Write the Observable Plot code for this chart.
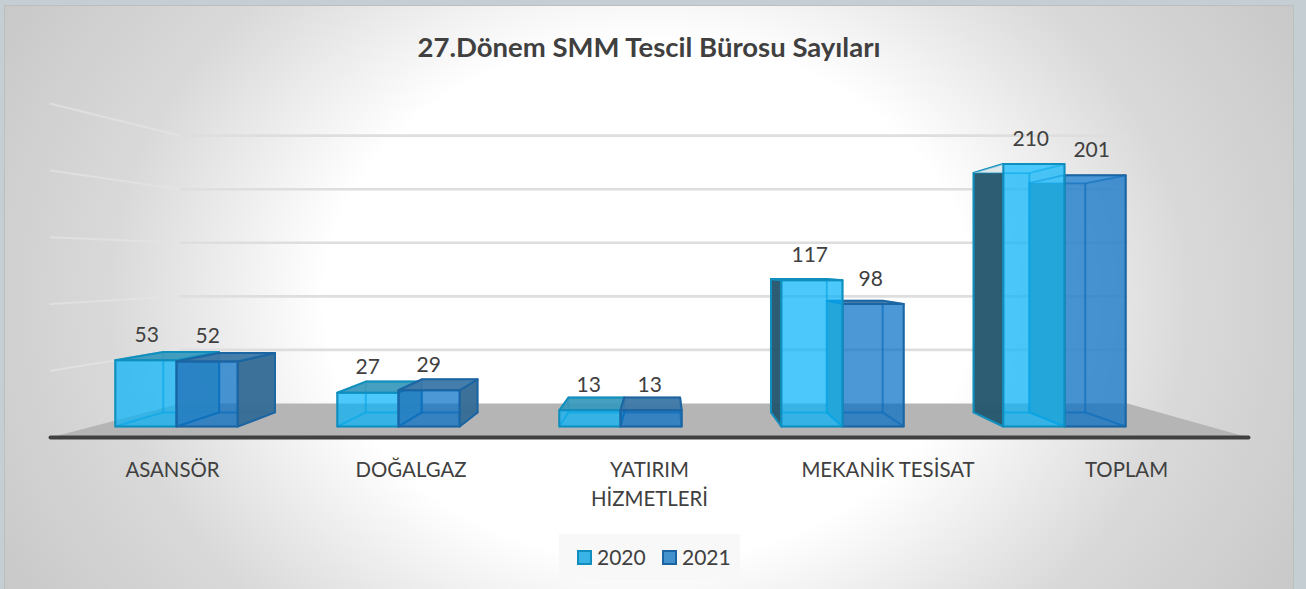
<!DOCTYPE html>
<html lang="tr">
<head>
<meta charset="utf-8">
<script src="https://cdn.jsdelivr.net/npm/d3@7"></script>
<script src="https://cdn.jsdelivr.net/npm/@observablehq/plot@0.6"></script>
<style>
html,body{margin:0;padding:0;background:#c5ced2;}
#root{position:relative;width:1306px;height:589px;overflow:hidden;font-family:Lato,sans-serif;}
#panel{position:absolute;left:4px;top:5px;width:1290px;height:590px;box-sizing:border-box;border:1px solid #bcbfc0;
  background:radial-gradient(ellipse 900px 720px at 50% 50%,#fff 0,#fff 36%,#d9d9d9 60%,#bfbfbf 95%);}
#chart{position:absolute;left:0;top:0;}
#title{position:absolute;left:0;width:1298px;top:32px;text-align:center;font-size:27.5px;font-weight:700;color:#404040;line-height:30px;}
#legend{position:absolute;left:559px;top:534px;width:181px;height:46px;background:#f8f8f8;font-size:21px;color:#404040;}
#legend span{position:absolute;top:9px;line-height:28px;}
#legend i{position:absolute;top:16px;width:15px;height:15px;box-sizing:border-box;border:2px solid;}
</style>
</head>
<body>
<div id="root">
  <div id="panel"></div>
  <div id="chart"></div>
  <div id="title"></div>
  <div id="legend"></div>
</div>
<script>
const chartTitle = "27.Dönem SMM Tescil Bürosu Sayıları";
const categories = ["ASANSÖR", "DOĞALGAZ", "YATIRIM\nHİZMETLERİ", "MEKANİK TESİSAT", "TOPLAM"];
const values2020 = [53, 27, 13, 117, 210];
const values2021 = [52, 29, 13, 98, 201];
const seriesNames = ["2020", "2021"];
const gridValues = [50, 100, 150, 200, 250];

// Layout of the 3D box, in scale units
const W = 1306, H = 589;
const slotPx = 222, slotStart = 176, pxPerValue = 1.25, basePx = 426;
const xDomain = [-slotStart / slotPx, (W - slotStart) / slotPx];
const yDomain = [(basePx - H) / pxPerValue, basePx / pxPerValue];
const barW = 61.2 / slotPx;
const vanishX = (663 - slotStart) / slotPx, vanishV = (basePx - 265) / pxPerValue;
const depthBar = 0.9125, depthWall = 0.857, depthFloorFront = 1.068;
const slot = px => (px - slotStart) / slotPx;

const pr = (x, v, s) => ({x: vanishX + (x - vanishX) * s, y: vanishV + (v - vanishV) * s});

const styles = {
  "2020": {front: "rgba(0,177,250,.70)", edge: "16,142,190", leftOut: "rgba(38,88,110,.97)", rightOut: "rgba(127,181,190,.92)", topOut: "rgba(53,151,187,.92)"},
  "2021": {front: "rgba(0,108,197,.70)", edge: "28,101,163", leftOut: "rgba(113,140,143,.97)", rightOut: "rgba(54,109,150,.97)", topOut: "rgba(59,119,166,.95)"}
};

function barFaces(i, series, value) {
  const st = styles[series];
  const is2020 = series === "2020";
  const x0 = i + (is2020 ? -barW : 0), x1 = x0 + barW;
  const F = (x, v) => pr(x, v, 1), B = (x, v) => pr(x, v, depthBar);
  const leftOutside = x0 > vanishX, rightOutside = x1 < vanishX, topOutside = value < vanishV;
  const faint = `rgba(${st.edge},.38)`, solid = `rgb(${st.edge})`;
  // The side that faces the neighbouring bar is seen through it, so its edge stays soft
  const faces = [
    {name: "back", fill: "rgba(255,255,255,.03)", stroke: faint, pts: [B(x0,0), B(x1,0), B(x1,value), B(x0,value)]},
    {name: "bottom", fill: "rgba(255,255,255,.02)", stroke: faint, pts: [F(x0,0), F(x1,0), B(x1,0), B(x0,0)]},
    {name: "left", fill: leftOutside ? st.leftOut : "rgba(255,255,255,.02)", stroke: leftOutside && is2020 ? solid : faint, pts: [F(x0,0), B(x0,0), B(x0,value), F(x0,value)]},
    {name: "right", fill: rightOutside ? st.rightOut : "rgba(255,255,255,.02)", stroke: rightOutside && !is2020 ? solid : faint, pts: [F(x1,0), B(x1,0), B(x1,value), F(x1,value)]},
    {name: "top", fill: topOutside ? st.topOut : "rgba(255,255,255,.85)", stroke: topOutside ? solid : faint, pts: [F(x0,value), F(x1,value), B(x1,value), B(x0,value)]},
    {name: "front", fill: st.front, stroke: solid, pts: [F(x0,0), F(x1,0), F(x1,value), F(x0,value)]}
  ];
  return faces.map(f => ({...f, id: `${i}-${series}-${f.name}`}));
}

// Paint order: bars left of the vanishing point put 2021 last, bars right of it put 2020 last
const polygons = [];
categories.forEach((c, i) => {
  const order = i < vanishX ? ["2020", "2021"] : ["2021", "2020"];
  for (const s of order) {
    const v = s === "2020" ? values2020[i] : values2021[i];
    polygons.push(...barFaces(i, s, v));
  }
});
const facePoints = polygons.flatMap(f => [...f.pts, f.pts[0]].map(p => ({...p, id: f.id, fill: f.fill, stroke: f.stroke})));

// Room: floor and gridlines on back and side walls
const wallY = v => (vanishV + (v - vanishV) * depthWall);
const frontY = v => (vanishV + (v - vanishV) * depthFloorFront);
const floorL = slot(50), floorR = slot(1248), backL = slot(180), backR = slot(1127);
const floorPoints = [
  {x: floorL, y: frontY(0)}, {x: floorR, y: frontY(0)}, {x: backR, y: wallY(0)}, {x: backL, y: wallY(0)}
];
const gridBack = gridValues.flatMap(g => [{g, x: backL, y: wallY(g)}, {g, x: backR, y: wallY(g)}]);
const gridSide = gridValues.flatMap(g => [{g, x: floorL, y: frontY(g)}, {g, x: backL, y: wallY(g)}]);
const axisLine = [{x: floorL, y: frontY(0)}, {x: floorR, y: frontY(0)}];

// Value labels sit a little inside the bar's front plane
const labelDepth = 0.9955;
const labelX = x => pr(x, 0, labelDepth).x;
const labelData = categories.flatMap((c, i) => [
  {x: labelX(i - barW / 2), y: values2020[i], t: String(values2020[i])},
  {x: labelX(i + barW / 2), y: values2021[i], t: String(values2021[i])}
]);
const catLabelStart = slot(172), catLabelStep = 238.5 / slotPx, catLabelV = -24.7;
const catData = categories.map((c, i) => ({x: catLabelStart + i * catLabelStep, y: catLabelV, t: c}));

const chart = Plot.plot({
  width: W, height: H, margin: 0,
  style: {background: "transparent", fontFamily: "Lato, sans-serif"},
  x: {domain: xDomain, range: [0, W], axis: null},
  y: {domain: yDomain, range: [H, 0], axis: null},
  color: {type: "identity"},
  marks: [
    Plot.line(gridSide, {x: "x", y: "y", z: "g", stroke: "#e4e4e4", strokeOpacity: 0.7, strokeWidth: 2}),
    Plot.line(gridBack, {x: "x", y: "y", z: "g", stroke: "#dedede", strokeWidth: 2.6}),
    Plot.line([...floorPoints, floorPoints[0]], {x: "x", y: "y", fill: "#b5b5b5", stroke: "none"}),
    Plot.line(axisLine, {x: "x", y: "y", stroke: "#404040", strokeWidth: 4, strokeLinecap: "round"}),
    Plot.line(facePoints, {x: "x", y: "y", z: "id", fill: "fill", stroke: "stroke", strokeWidth: 2}),
    Plot.text(labelData, {x: "x", y: "y", text: "t", dx: -1.5, dy: -25, fontSize: 21, fill: "#404040"}),
    Plot.text(catData, {x: "x", y: "y", text: "t", lineAnchor: "top", lineHeight: 1.38, fontSize: 20.4, fill: "#404040"})
  ]
});
document.getElementById("chart").appendChild(chart);

document.getElementById("title").textContent = chartTitle;
const legendEl = document.getElementById("legend");
seriesNames.forEach((s, i) => {
  const sw = document.createElement("i");
  sw.style.left = (18 + i * 85) + "px";
  sw.style.background = s === "2020" ? "#3ab4e6" : "#4391cd";
  sw.style.borderColor = `rgb(${styles[s].edge})`;
  const t = document.createElement("span");
  t.style.left = (38 + i * 85) + "px";
  t.textContent = s;
  legendEl.append(sw, t);
});
</script>
</body>
</html>
